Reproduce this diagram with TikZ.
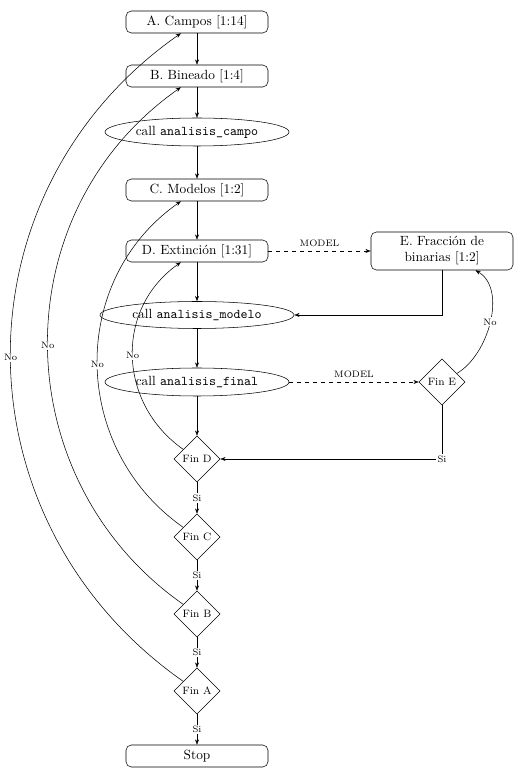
\documentclass[tikz,border=0pt]{standalone}
\usepackage{fontspec}
\usetikzlibrary{shapes.geometric,arrows.meta}
\begin{document}
\begin{tikzpicture}[x=0.75pt,y=0.75pt,
  stepbox/.style={draw, rounded corners=4pt, minimum width=106.5pt, minimum height=16.5pt, inner sep=1pt},
  callnode/.style={draw, ellipse, inner sep=0pt, minimum height=21pt},
  decision/.style={draw, diamond, aspect=1, minimum width=34.5pt, minimum height=34.5pt, inner sep=0pt, font=\footnotesize},
  lab/.style={font=\scriptsize, fill=white, inner sep=1pt},
  modlab/.style={above, font=\scriptsize, inner sep=3pt},
  flow/.style={-{Stealth[length=4pt,width=3pt]}},
  back/.style={flow, out=145, in=215}
]
\useasboundingbox (0,0) rectangle (520,769);

\node[stepbox] (A) at (197,747) {A. Campos [1:14]};
\node[stepbox] (B) at (197,693) {B. Bineado [1:4]};
\node[callnode, minimum width=138pt] (campo) at (197,637) {call \texttt{analisis\_campo}};
\node[stepbox] (C) at (197,579) {C. Modelos [1:2]};
\node[stepbox] (D) at (197,518) {D. Extinción [1:31]};
\node[stepbox, minimum height=28.5pt, align=center, inner sep=1pt] (E) at (442,518) {E. Fracción de\\binarias [1:2]};
\node[callnode, minimum width=145.5pt, minimum height=20.25pt] (modelo) at (197,454) {call \texttt{analisis\_modelo}};
\node[callnode, minimum width=138pt] (final) at (197,387) {call \texttt{analisis\_final}};
\node[decision] (finE) at (442,387) {Fin E};
\node[decision] (finD) at (197,310) {Fin D};
\node[decision] (finC) at (197,232) {Fin C};
\node[decision] (finB) at (197,155) {Fin B};
\node[decision] (finA) at (197,78) {Fin A};
\node[stepbox] (stop) at (197,13) {Stop};

\draw[flow] (A) -- (B);
\draw[flow] (B) -- (campo);
\draw[flow] (campo) -- (C);
\draw[flow] (C) -- (D);
\draw[flow] (D) -- (modelo);
\draw[flow] (modelo) -- (final);
\draw[flow] (final) -- (finD);
\draw[flow] (finD) -- node[lab] {Si} (finC);
\draw[flow] (finC) -- node[lab] {Si} (finB);
\draw[flow] (finB) -- node[lab] {Si} (finA);
\draw[flow] (finA) -- node[lab] {Si} (stop);

\draw[flow, dashed] (D) -- node[modlab] {MODEL} (E);
\draw[flow] (E) |- (modelo);
\draw[flow, dashed] (final) -- node[modlab] {MODEL} (finE);
\draw[flow] (finE) |- node[lab] {Si} (finD);
\draw[flow] (finE) to[out=30, in=-30, looseness=0.9] node[lab] {No} (E);

\draw[back, looseness=1.1] (finD) to node[lab] {No} (D);
\draw[back, looseness=1.08] (finC) to node[lab] {No} (C);
\draw[back, looseness=1.08] (finB) to node[lab] {No} (B);
\draw[back, looseness=1.1] (finA) to node[lab] {No} (A);
\end{tikzpicture}
\end{document}
